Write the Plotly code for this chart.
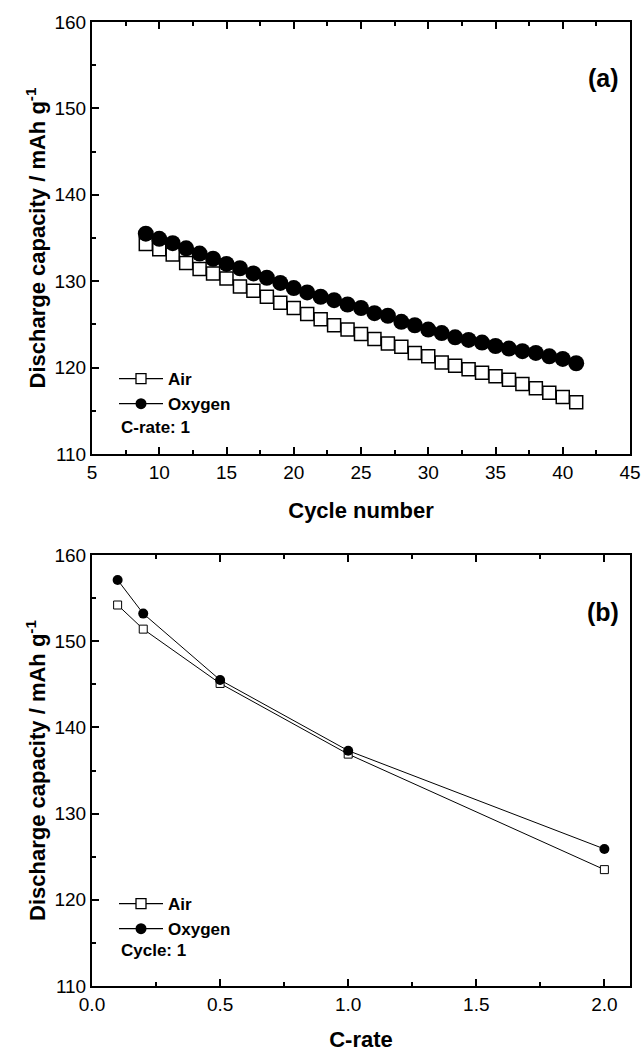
import plotly.graph_objects as go

# ---------- data ----------
cycles = list(range(9, 42))
air_a = [134.3, 133.7, 133.1, 132.1, 131.4, 130.9, 130.3, 129.4, 128.9, 128.2,
         127.5, 126.9, 126.2, 125.6, 124.9, 124.4, 123.9, 123.3, 122.8, 122.4,
         121.7, 121.3, 120.6, 120.2, 119.8, 119.4, 119.0, 118.6, 118.1, 117.6,
         117.1, 116.6, 116.0]
oxy_a = [135.5, 134.9, 134.4, 133.8, 133.2, 132.6, 132.0, 131.5, 130.9, 130.4,
         129.8, 129.2, 128.7, 128.2, 127.8, 127.3, 126.9, 126.3, 126.0, 125.3,
         124.9, 124.4, 124.0, 123.5, 123.2, 122.9, 122.5, 122.2, 121.9, 121.7,
         121.3, 121.0, 120.5]

c_rates = [0.1, 0.2, 0.5, 1.0, 2.0]
air_b = [154.2, 151.4, 145.1, 136.9, 123.5]
oxy_b = [157.1, 153.2, 145.5, 137.3, 125.9]

labels = ["Air", "Oxygen"]
note_a = "C-rate: 1"
note_b = "Cycle: 1"
ytitle = "Discharge capacity / mAh g<sup>-1</sup>"

W, H = 644, 1052
FONT = "Liberation Sans, Arial, sans-serif"

fig = go.Figure()

# panel (a)
fig.add_trace(go.Scatter(x=cycles, y=air_a, mode="lines+markers", xaxis="x", yaxis="y",
                         line=dict(color="black", width=1),
                         marker=dict(symbol="square", size=13, color="white",
                                     line=dict(color="black", width=1.5)),
                         showlegend=False))
fig.add_trace(go.Scatter(x=cycles, y=oxy_a, mode="lines+markers", xaxis="x", yaxis="y",
                         line=dict(color="black", width=1),
                         marker=dict(symbol="circle", size=16, color="black"),
                         showlegend=False))
# panel (b)
fig.add_trace(go.Scatter(x=c_rates, y=air_b, mode="lines+markers", xaxis="x2", yaxis="y2",
                         line=dict(color="black", width=1),
                         marker=dict(symbol="square", size=8, color="white",
                                     line=dict(color="black", width=1)),
                         showlegend=False))
fig.add_trace(go.Scatter(x=c_rates, y=oxy_b, mode="lines+markers", xaxis="x2", yaxis="y2",
                         line=dict(color="black", width=1),
                         marker=dict(symbol="circle", size=10, color="black"),
                         showlegend=False))

# legend entries
for lg, xa, ya in (("legend", "x", "y"), ("legend2", "x2", "y2")):
    fig.add_trace(go.Scatter(x=[None], y=[None], mode="lines+markers", xaxis=xa, yaxis=ya,
                             name=labels[0], legend=lg,
                             line=dict(color="black", width=1.2),
                             marker=dict(symbol="square", size=10, color="white",
                                         line=dict(color="black", width=1.3))))
    fig.add_trace(go.Scatter(x=[None], y=[None], mode="lines+markers", xaxis=xa, yaxis=ya,
                             name=labels[1], legend=lg,
                             line=dict(color="black", width=1.2),
                             marker=dict(symbol="circle", size=11, color="black")))

xdom = [92 / W, 630 / W]
ya_dom = [1 - 454 / H, 1 - 22 / H]
yb_dom = [1 - 986 / H, 1 - 555 / H]

tickfont = dict(family=FONT, size=19, color="black")
titlefont = dict(family=FONT, size=22, color="black")


def xax(domain_anchor, rng, dtick, minor, title, fmt=None):
    d = dict(domain=xdom, anchor=domain_anchor, range=rng, dtick=dtick, tick0=0,
             automargin=False,
             showline=True, linecolor="black", linewidth=2, mirror="ticks",
             ticks="inside", ticklen=7, tickwidth=1.5, tickcolor="black",
             showgrid=False, zeroline=False, tickfont=tickfont,
             minor=dict(dtick=minor, ticks="inside", ticklen=4, tickwidth=1.5,
                        tickcolor="black", showgrid=False),
             title=dict(text="<b>%s</b>" % title, font=titlefont, standoff=21))
    if fmt:
        d["tickformat"] = fmt
    return d


def yax(anchor, domain):
    return dict(domain=domain, anchor=anchor, range=[110, 160], dtick=10, tick0=0,
                automargin=False,
                showline=True, linecolor="black", linewidth=2, mirror=True,
                ticks="inside", ticklen=7, tickwidth=1.5, tickcolor="black",
                showgrid=False, zeroline=False, tickfont=tickfont,
                minor=dict(dtick=5, ticks="inside", ticklen=4, tickwidth=1.5,
                           tickcolor="black", showgrid=False),
                title=dict(text="<b>%s</b>" % ytitle, font=titlefont, standoff=3))


legfont = dict(family=FONT, size=17, color="black", weight="bold")

fig.update_layout(
    width=W, height=H, margin=dict(l=0, r=0, t=0, b=0),
    paper_bgcolor="white", plot_bgcolor="white",
    font=dict(family=FONT, color="black"),
    xaxis=xax("y", [5, 45], 5, 2.5, "Cycle number"),
    yaxis=yax("x", ya_dom),
    xaxis2=xax("y2", [0, 2.1], 0.5, 0.25, "C-rate", ".1f"),
    yaxis2=yax("x2", yb_dom),
    legend=dict(x=114 / W, y=1 - 361 / H, xanchor="left", yanchor="top",
                bgcolor="rgba(0,0,0,0)", font=legfont, tracegroupgap=0,
                itemwidth=44),
    legend2=dict(x=114 / W, y=1 - 886 / H, xanchor="left", yanchor="top",
                 bgcolor="rgba(0,0,0,0)", font=legfont, tracegroupgap=0,
                 itemwidth=44),
    annotations=[
        dict(text="<b>%s</b>" % note_a, x=119 / W, y=1 - 427 / H, xref="paper", yref="paper",
             xanchor="left", yanchor="middle", showarrow=False,
             font=dict(family=FONT, size=17, color="black")),
        dict(text="<b>%s</b>" % note_b, x=119 / W, y=1 - 950 / H, xref="paper", yref="paper",
             xanchor="left", yanchor="middle", showarrow=False,
             font=dict(family=FONT, size=17, color="black")),
        dict(text="<b>(a)</b>", x=621 / W, y=1 - 78 / H, xref="paper", yref="paper",
             xanchor="right", yanchor="middle", showarrow=False,
             font=dict(family=FONT, size=25, color="black")),
        dict(text="<b>(b)</b>", x=621 / W, y=1 - 612 / H, xref="paper", yref="paper",
             xanchor="right", yanchor="middle", showarrow=False,
             font=dict(family=FONT, size=25, color="black")),
    ],
)

fig.write_html("out.html")
